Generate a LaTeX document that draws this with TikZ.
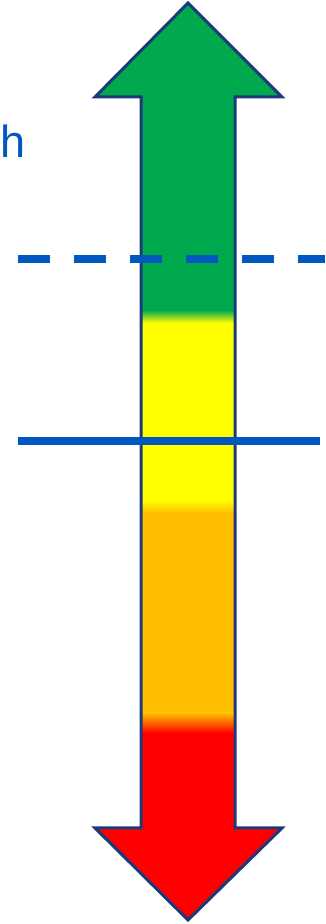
\documentclass[tikz,border=0pt]{standalone}
\usepackage{fontspec}
\setmainfont{Liberation Sans}
\definecolor{agreen}{RGB}{0,168,78}
\definecolor{ayellow}{RGB}{255,255,0}
\definecolor{aorange}{RGB}{255,190,0}
\definecolor{ared}{RGB}{255,0,0}
\definecolor{aoutline}{RGB}{28,58,122}
\definecolor{lblue}{RGB}{0,88,190}
\tikzset{
  levelline/.style={draw=lblue,line width=8pt},
  arrowoutline/.style={draw=aoutline,line width=3pt,line join=miter},
  lbl/.style={text=lblue,font=\fontsize{45}{54}\selectfont,inner sep=0pt,anchor=base west}
}
\begin{document}
\begin{tikzpicture}[x=1pt,y=1pt]
\useasboundingbox (0,0) rectangle (325,924);
\def\arrowpath{(188,921) -- (282,827) -- (235,827) -- (235,96) -- (282,96) -- (188,4) -- (95,96) -- (141,96) -- (141,827) -- (95,827) -- cycle}
\begin{scope}
  \clip \arrowpath;
  \fill[agreen] (90,614) rectangle (290,924);
  \shade[top color=agreen,bottom color=ayellow] (90,601) rectangle (290,614);
  \fill[ayellow] (90,424) rectangle (290,601);
  \shade[top color=ayellow,bottom color=aorange] (90,411) rectangle (290,424);
  \fill[aorange] (90,211) rectangle (290,411);
  \shade[top color=aorange,bottom color=ared] (90,191) rectangle (290,211);
  \fill[ared] (90,0) rectangle (290,191);
\end{scope}
\path[arrowoutline] \arrowpath;
\coordinate (dashL) at (18,665);
\coordinate (dashR) at (325,665);
\coordinate (solL) at (18,483);
\coordinate (solR) at (320,483);
\draw[levelline,dash pattern=on 32pt off 24pt] (dashL) -- (dashR);
\draw[levelline] (solL) -- (solR);
\node[lbl] (h) at (0,766) {h};
\end{tikzpicture}
\end{document}
